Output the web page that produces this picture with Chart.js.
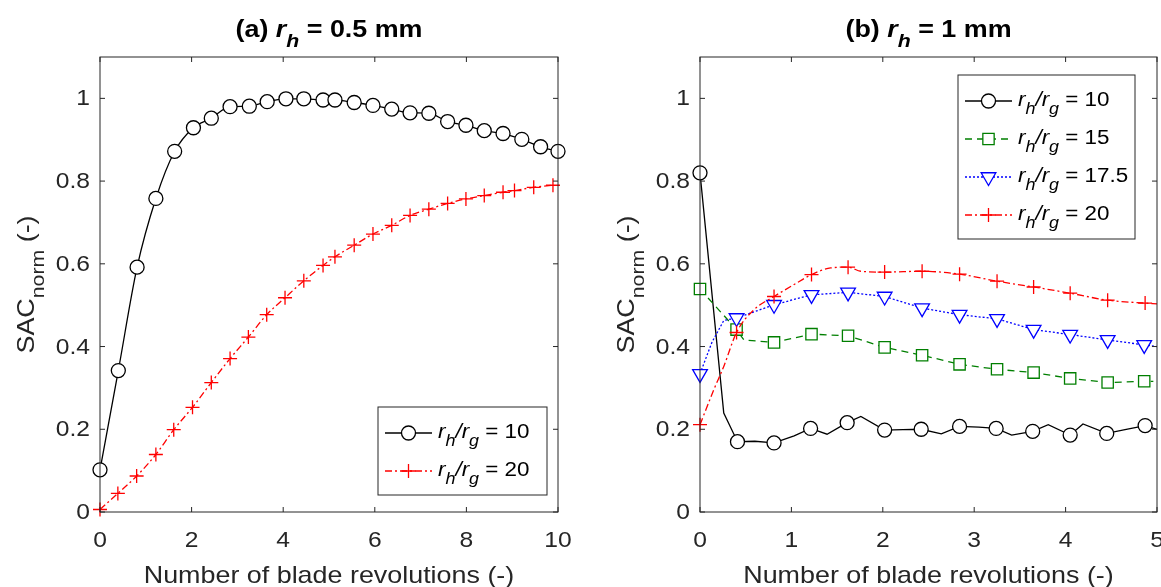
<!DOCTYPE html>
<html>
<head>
<meta charset="utf-8">
<script src="https://cdn.jsdelivr.net/npm/chart.js@4.4.1/dist/chart.umd.min.js"></script>
<style>
  html, body { margin: 0; padding: 0; background: #fff; }
  #wrap { position: relative; width: 1161px; height: 587px; overflow: hidden; }
  canvas { position: absolute; top: 0; }
  #c1 { left: 0; }
  #c2 { left: 580px; }
</style>
</head>
<body>
<div id="wrap">
  <canvas id="c1" width="580" height="587"></canvas>
  <canvas id="c2" width="581" height="587"></canvas>
</div>
<script>
const FONT = '"Liberation Sans", Arial, Helvetica, sans-serif';
const INK = '#262626';
const SX = 1.12; // the figure's text runs a little wider than Liberation Sans

// axis ticks
const xTicksA = [0, 2, 4, 6, 8, 10];
const xTicksB = [0, 1, 2, 3, 4, 5];
const yTicks = [0, 0.2, 0.4, 0.6, 0.8, 1];

// (a) r_h = 0.5 mm
const aX10 = [0, 0.4, 0.81, 1.22, 1.63, 2.04, 2.43, 2.84, 3.26, 3.65, 4.06, 4.45, 4.87, 5.13, 5.55, 5.96, 6.37, 6.77, 7.18, 7.59, 7.99, 8.39, 8.8, 9.21, 9.62, 10];
const aY10 = [0.102, 0.342, 0.592, 0.758, 0.872, 0.929, 0.952, 0.98, 0.981, 0.992, 0.999, 0.999, 0.996, 0.996, 0.99, 0.983, 0.974, 0.965, 0.964, 0.944, 0.935, 0.922, 0.915, 0.901, 0.883, 0.872];
const aX20 = [0, 0.39, 0.8, 1.22, 1.61, 2.02, 2.43, 2.84, 3.24, 3.64, 4.04, 4.45, 4.87, 5.13, 5.55, 5.96, 6.37, 6.77, 7.18, 7.59, 7.99, 8.39, 8.8, 9.05, 9.47, 9.89];
const aY20 = [0.006, 0.045, 0.087, 0.139, 0.199, 0.253, 0.313, 0.371, 0.423, 0.477, 0.518, 0.559, 0.596, 0.617, 0.645, 0.672, 0.693, 0.717, 0.732, 0.746, 0.757, 0.765, 0.773, 0.777, 0.785, 0.79];

// (b) r_h = 1 mm, markers
const bX10 = [0, 0.41, 0.81, 1.21, 1.61, 2.02, 2.42, 2.84, 3.24, 3.64, 4.05, 4.45, 4.87];
const bY10 = [0.82, 0.17, 0.167, 0.202, 0.216, 0.198, 0.2, 0.207, 0.202, 0.195, 0.186, 0.19, 0.209];
const bX15 = [0, 0.4, 0.81, 1.22, 1.62, 2.02, 2.43, 2.84, 3.25, 3.65, 4.05, 4.46, 4.86];
const bY15 = [0.539, 0.441, 0.41, 0.43, 0.426, 0.398, 0.379, 0.357, 0.345, 0.337, 0.323, 0.313, 0.316];
const bX175 = [0, 0.4, 0.81, 1.22, 1.62, 2.02, 2.43, 2.84, 3.25, 3.65, 4.05, 4.46, 4.86];
const bY175 = [0.334, 0.469, 0.501, 0.525, 0.531, 0.521, 0.493, 0.477, 0.467, 0.441, 0.429, 0.416, 0.404];
const bX20 = [0, 0.4, 0.81, 1.22, 1.62, 2.02, 2.43, 2.84, 3.25, 3.65, 4.05, 4.46, 4.87];
const bY20 = [0.211, 0.434, 0.521, 0.574, 0.592, 0.58, 0.582, 0.575, 0.558, 0.544, 0.529, 0.512, 0.505];

// (b) line traces (finer than the markers)
const bX10Line = [0, 0.26, 0.41, 0.6, 0.81, 1.03, 1.21, 1.39, 1.61, 1.76, 2.02, 2.22, 2.42, 2.64, 2.84, 3.05, 3.24, 3.41, 3.64, 3.81, 4.05, 4.19, 4.45, 4.65, 4.87, 5];
const bY10Line = [0.82, 0.239, 0.17, 0.171, 0.167, 0.184, 0.202, 0.188, 0.216, 0.231, 0.198, 0.199, 0.2, 0.189, 0.207, 0.205, 0.202, 0.186, 0.195, 0.211, 0.186, 0.213, 0.19, 0.199, 0.209, 0.2];
const bX15Line = [0, 0.4, 0.48, 0.81, 1.22, 1.62, 2.02, 2.43, 2.84, 3.25, 3.65, 4.05, 4.46, 4.86, 4.96];
const bY15Line = [0.539, 0.441, 0.416, 0.41, 0.43, 0.426, 0.398, 0.379, 0.357, 0.345, 0.337, 0.323, 0.313, 0.316, 0.316];
const bX175Line = [0, 0.13, 0.26, 0.4, 0.81, 1.22, 1.62, 2.02, 2.43, 2.84, 3.25, 3.65, 4.05, 4.46, 4.86, 5];
const bY175Line = [0.334, 0.41, 0.463, 0.469, 0.501, 0.525, 0.531, 0.521, 0.493, 0.477, 0.467, 0.441, 0.429, 0.416, 0.404, 0.4];
const bX20Line = [0, 0.15, 0.26, 0.4, 0.59, 0.81, 1.03, 1.22, 1.43, 1.62, 1.76, 2.02, 2.43, 2.84, 3.25, 3.65, 4.05, 4.46, 4.87, 5];
const bY20Line = [0.211, 0.295, 0.352, 0.434, 0.489, 0.521, 0.55, 0.574, 0.59, 0.592, 0.582, 0.58, 0.582, 0.575, 0.558, 0.544, 0.529, 0.512, 0.505, 0.503];

const ratioLabels = { r10: '10', r15: '15', r175: '17.5', r20: '20' };

const STYLES = {
    r10:  { color: '#000000', dash: [],           shape: 'circle',   radius: 7,   rot: 0 },
    r15:  { color: '#007f00', dash: [7, 5],       shape: 'rect',     radius: 8,   rot: 0 },
    r175: { color: '#0000ff', dash: [2, 2],       shape: 'triangle', radius: 8.5, rot: 180 },
    r20:  { color: '#ff0000', dash: [7, 3, 2, 3], shape: 'cross',    radius: 7,   rot: 0 }
};

function pts(xs, ys) {
    return xs.map((x, i) => ({ x, y: ys[i] }));
}

function lineSet(key, xs, ys, order, smooth) {
    const s = STYLES[key];
    return {
        data: pts(xs, ys),
        borderColor: s.color,
        borderWidth: 1.3,
        borderDash: s.dash,
        pointRadius: 0,
        pointHoverRadius: 0,
        cubicInterpolationMode: smooth ? 'monotone' : 'default',
        tension: 0,
        fill: false,
        clip: false,
        order
    };
}

function markSet(key, xs, ys, order) {
    const s = STYLES[key];
    return {
        data: pts(xs, ys),
        showLine: false,
        borderColor: s.color,
        pointStyle: s.shape,
        pointRotation: s.rot,
        pointRadius: s.radius,
        pointHoverRadius: s.radius,
        pointBorderWidth: 1.3,
        pointBorderColor: s.color,
        pointBackgroundColor: '#ffffff',
        clip: false,
        order
    };
}

function scalesFor(xMax, xTicks, yWidth) {
    return {
        x: {
            type: 'linear', min: 0, max: xMax,
            grid: { display: false, drawTicks: false },
            border: { display: false },
            afterBuildTicks: (s) => { s.ticks = xTicks.map((v) => ({ value: v })); },
            afterFit: (s) => { s.height = 75; },
            ticks: { display: false }
        },
        y: {
            type: 'linear', min: 0, max: 1.1,
            grid: { display: false, drawTicks: false },
            border: { display: false },
            afterBuildTicks: (s) => { s.ticks = yTicks.map((v) => ({ value: v })); },
            afterFit: (s) => { s.width = yWidth; },
            ticks: { display: false }
        }
    };
}

// rich text, slightly widened: parts = [{ t, it, sub }]
function drawRich(ctx, parts, x, y, size, bold, align) {
    const fontFor = (p) => (p.it ? 'italic ' : '') + (bold ? 'bold ' : '') + (p.sub ? Math.round(size * 0.8) : size) + 'px ' + FONT;
    const widths = parts.map((p) => { ctx.font = fontFor(p); return ctx.measureText(p.t).width * SX; });
    const total = widths.reduce((a, b) => a + b, 0);
    let cx = x;
    if (align === 'center') cx = x - total / 2;
    if (align === 'right') cx = x - total;
    ctx.textAlign = 'left';
    parts.forEach((p, i) => {
        ctx.font = fontFor(p);
        ctx.save();
        ctx.translate(cx, y + (p.sub ? size * 0.42 : 0));
        ctx.scale(SX, 1);
        ctx.fillText(p.t, 0, 0);
        ctx.restore();
        cx += widths[i];
    });
    return total;
}

function ratioParts(key) {
    return [
        { t: 'r', it: true }, { t: 'h', it: true, sub: true }, { t: '/', it: true },
        { t: 'r', it: true }, { t: 'g', it: true, sub: true }, { t: ' = ' + ratioLabels[key] }
    ];
}

function drawMarker(ctx, s, x, y) {
    ctx.beginPath();
    if (s.shape === 'circle') {
        ctx.arc(x, y, s.radius, 0, Math.PI * 2);
    } else if (s.shape === 'rect') {
        const h = s.radius * Math.SQRT1_2;
        ctx.rect(x - h, y - h, 2 * h, 2 * h);
    } else if (s.shape === 'triangle') {
        let rad = s.rot * Math.PI / 180;
        for (let i = 0; i < 3; i++) {
            const px = x + Math.sin(rad) * s.radius;
            const py = y - Math.cos(rad) * s.radius;
            if (i === 0) ctx.moveTo(px, py); else ctx.lineTo(px, py);
            rad += Math.PI * 2 / 3;
        }
        ctx.closePath();
    } else if (s.shape === 'cross') {
        ctx.moveTo(x - s.radius, y); ctx.lineTo(x + s.radius, y);
        ctx.moveTo(x, y - s.radius); ctx.lineTo(x, y + s.radius);
    }
    if (s.shape !== 'cross') {
        ctx.fillStyle = '#ffffff';
        ctx.fill();
    }
    ctx.setLineDash([]);
    ctx.strokeStyle = s.color;
    ctx.lineWidth = 1.3;
    ctx.stroke();
}

const PANELS = {
    c1: {
        title: [{ t: '(a) ' }, { t: 'r', it: true }, { t: 'h', it: true, sub: true }, { t: ' = 0.5 mm' }],
        legend: { keys: ['r10', 'r20'], corner: 'bottom', dx: 11, dy: 17, w: 169 }
    },
    c2: {
        title: [{ t: '(b) ' }, { t: 'r', it: true }, { t: 'h', it: true, sub: true }, { t: ' = 1 mm' }],
        legend: { keys: ['r10', 'r15', 'r175', 'r20'], corner: 'top', dx: 22, dy: 18, w: 177 }
    }
};

const decor = {
    id: 'decor',
    afterDatasetsDraw(chart) {
        const spec = PANELS[chart.canvas.id];
        const { ctx, chartArea: a } = chart;
        const xs = chart.scales.x;
        const ys = chart.scales.y;
        ctx.save();

        // axes box with inward ticks on all sides
        ctx.strokeStyle = INK;
        ctx.lineWidth = 1;
        ctx.setLineDash([]);
        ctx.strokeRect(a.left, a.top, a.right - a.left, a.bottom - a.top);
        ctx.beginPath();
        xs.ticks.forEach((t) => {
            const px = xs.getPixelForValue(t.value);
            ctx.moveTo(px, a.bottom); ctx.lineTo(px, a.bottom - 5);
            ctx.moveTo(px, a.top); ctx.lineTo(px, a.top + 5);
        });
        ys.ticks.forEach((t) => {
            const py = ys.getPixelForValue(t.value);
            ctx.moveTo(a.left, py); ctx.lineTo(a.left + 5, py);
            ctx.moveTo(a.right, py); ctx.lineTo(a.right - 5, py);
        });
        ctx.stroke();

        // tick labels
        ctx.fillStyle = INK;
        ctx.textBaseline = 'middle';
        xs.ticks.forEach((t) => {
            drawRich(ctx, [{ t: String(t.value) }], xs.getPixelForValue(t.value), a.bottom + 29, 22, false, 'center');
        });
        ys.ticks.forEach((t) => {
            drawRich(ctx, [{ t: String(t.value) }], a.left - 10, ys.getPixelForValue(t.value) + 1, 22, false, 'right');
        });
        ctx.textBaseline = 'alphabetic';

        // legend
        const lg = spec.legend;
        const rowH = 38;
        const bw = lg.w;
        const bh = 26 + rowH * (lg.keys.length - 1) + 24;
        const bx = a.right - lg.dx - bw;
        const by = lg.corner === 'top' ? a.top + lg.dy : a.bottom - lg.dy - bh;
        ctx.fillStyle = '#ffffff';
        ctx.fillRect(bx, by, bw, bh);
        ctx.strokeStyle = INK;
        ctx.lineWidth = 1;
        ctx.strokeRect(bx, by, bw, bh);
        lg.keys.forEach((k, i) => {
            const s = STYLES[k];
            const cy = by + 26 + i * rowH;
            ctx.beginPath();
            ctx.setLineDash(s.dash);
            ctx.strokeStyle = s.color;
            ctx.lineWidth = 1.3;
            ctx.moveTo(bx + 7, cy); ctx.lineTo(bx + 54, cy);
            ctx.stroke();
            drawMarker(ctx, s, bx + 30.5, cy);
            ctx.fillStyle = '#000000';
            drawRich(ctx, ratioParts(k), bx + 60, cy + 5, 20, false, 'left');
        });

        // title
        const cx = (a.left + a.right) / 2;
        ctx.fillStyle = '#000000';
        drawRich(ctx, spec.title, cx, 37, 24, true, 'center');

        // x axis label
        ctx.fillStyle = INK;
        drawRich(ctx, [{ t: 'Number of blade revolutions (-)' }], cx, 583, 24, false, 'center');

        // y axis label
        ctx.save();
        ctx.translate(a.left - 66, (a.top + a.bottom) / 2);
        ctx.rotate(-Math.PI / 2);
        drawRich(ctx, [{ t: 'SAC' }, { t: 'norm', sub: true }, { t: ' (-)' }], 0, 0, 24, false, 'center');
        ctx.restore();

        ctx.restore();
    }
};

function makeChart(id, datasets, xMax, xTicks, yWidth, rightPad) {
    return new Chart(document.getElementById(id), {
        type: 'line',
        data: { datasets },
        options: {
            responsive: false,
            animation: false,
            events: [],
            layout: { autoPadding: false, padding: { top: 57, right: rightPad, left: 0, bottom: 0 } },
            scales: scalesFor(xMax, xTicks, yWidth),
            plugins: { legend: { display: false }, tooltip: { enabled: false }, title: { display: false } }
        },
        plugins: [decor]
    });
}

makeChart('c1', [
    markSet('r20', aX20, aY20, 1),
    lineSet('r20', aX20, aY20, 2, true),
    markSet('r10', aX10, aY10, 3),
    lineSet('r10', aX10, aY10, 4, true)
], 10, xTicksA, 100, 22);

makeChart('c2', [
    markSet('r20', bX20, bY20, 1),
    lineSet('r20', bX20Line, bY20Line, 2, true),
    markSet('r175', bX175, bY175, 3),
    lineSet('r175', bX175Line, bY175Line, 4, false),
    markSet('r15', bX15, bY15, 5),
    lineSet('r15', bX15Line, bY15Line, 6, false),
    markSet('r10', bX10, bY10, 7),
    lineSet('r10', bX10Line, bY10Line, 8, false)
], 5, xTicksB, 120, 4);
</script>
</body>
</html>
